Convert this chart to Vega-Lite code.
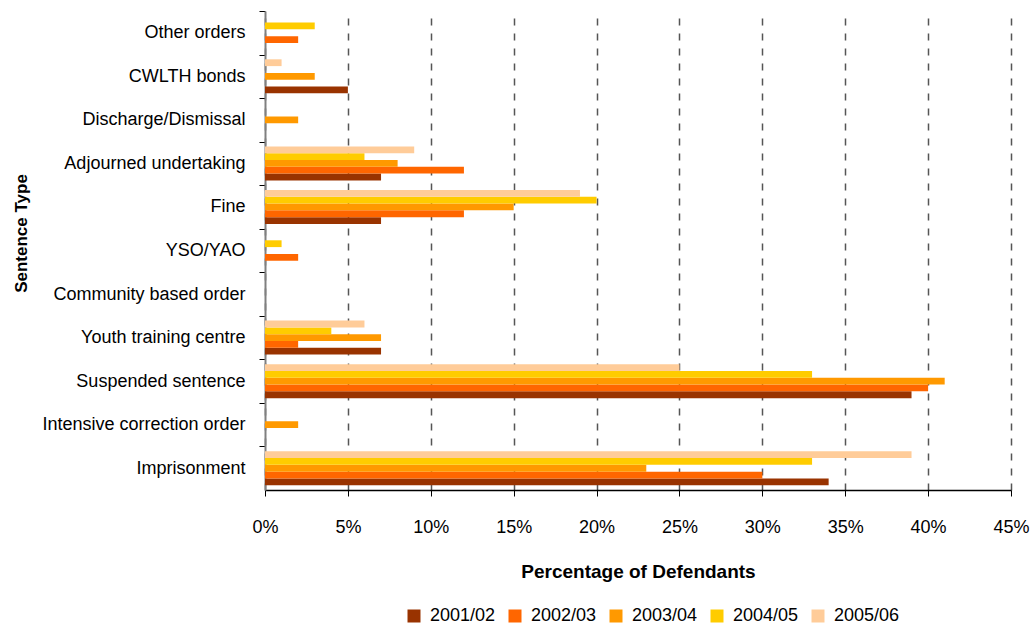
{
  "$schema": "https://vega.github.io/schema/vega-lite/v6.json",
  "width": 746,
  "height": 479,
  "autosize": {"type": "none"},
  "padding": {"left": 265, "top": 11, "right": 23, "bottom": 136},
  "background": "white",
  "config": {
    "view": {"stroke": null},
    "font": "Liberation Sans"
  },
  "data": {
    "values": [
      {"type": "Other orders", "year": "2001/02", "pct": 0},
      {"type": "Other orders", "year": "2002/03", "pct": 2},
      {"type": "Other orders", "year": "2003/04", "pct": 0},
      {"type": "Other orders", "year": "2004/05", "pct": 3},
      {"type": "Other orders", "year": "2005/06", "pct": 0},
      {"type": "CWLTH bonds", "year": "2001/02", "pct": 5},
      {"type": "CWLTH bonds", "year": "2002/03", "pct": 0},
      {"type": "CWLTH bonds", "year": "2003/04", "pct": 3},
      {"type": "CWLTH bonds", "year": "2004/05", "pct": 0},
      {"type": "CWLTH bonds", "year": "2005/06", "pct": 1},
      {"type": "Discharge/Dismissal", "year": "2001/02", "pct": 0},
      {"type": "Discharge/Dismissal", "year": "2002/03", "pct": 0},
      {"type": "Discharge/Dismissal", "year": "2003/04", "pct": 2},
      {"type": "Discharge/Dismissal", "year": "2004/05", "pct": 0},
      {"type": "Discharge/Dismissal", "year": "2005/06", "pct": 0},
      {"type": "Adjourned undertaking", "year": "2001/02", "pct": 7},
      {"type": "Adjourned undertaking", "year": "2002/03", "pct": 12},
      {"type": "Adjourned undertaking", "year": "2003/04", "pct": 8},
      {"type": "Adjourned undertaking", "year": "2004/05", "pct": 6},
      {"type": "Adjourned undertaking", "year": "2005/06", "pct": 9},
      {"type": "Fine", "year": "2001/02", "pct": 7},
      {"type": "Fine", "year": "2002/03", "pct": 12},
      {"type": "Fine", "year": "2003/04", "pct": 15},
      {"type": "Fine", "year": "2004/05", "pct": 20},
      {"type": "Fine", "year": "2005/06", "pct": 19},
      {"type": "YSO/YAO", "year": "2001/02", "pct": 0},
      {"type": "YSO/YAO", "year": "2002/03", "pct": 2},
      {"type": "YSO/YAO", "year": "2003/04", "pct": 0},
      {"type": "YSO/YAO", "year": "2004/05", "pct": 1},
      {"type": "YSO/YAO", "year": "2005/06", "pct": 0},
      {"type": "Community based order", "year": "2001/02", "pct": 0},
      {"type": "Community based order", "year": "2002/03", "pct": 0},
      {"type": "Community based order", "year": "2003/04", "pct": 0},
      {"type": "Community based order", "year": "2004/05", "pct": 0},
      {"type": "Community based order", "year": "2005/06", "pct": 0},
      {"type": "Youth training centre", "year": "2001/02", "pct": 7},
      {"type": "Youth training centre", "year": "2002/03", "pct": 2},
      {"type": "Youth training centre", "year": "2003/04", "pct": 7},
      {"type": "Youth training centre", "year": "2004/05", "pct": 4},
      {"type": "Youth training centre", "year": "2005/06", "pct": 6},
      {"type": "Suspended sentence", "year": "2001/02", "pct": 39},
      {"type": "Suspended sentence", "year": "2002/03", "pct": 40},
      {"type": "Suspended sentence", "year": "2003/04", "pct": 41},
      {"type": "Suspended sentence", "year": "2004/05", "pct": 33},
      {"type": "Suspended sentence", "year": "2005/06", "pct": 25},
      {"type": "Intensive correction order", "year": "2001/02", "pct": 0},
      {"type": "Intensive correction order", "year": "2002/03", "pct": 0},
      {"type": "Intensive correction order", "year": "2003/04", "pct": 2},
      {"type": "Intensive correction order", "year": "2004/05", "pct": 0},
      {"type": "Intensive correction order", "year": "2005/06", "pct": 0},
      {"type": "Imprisonment", "year": "2001/02", "pct": 34},
      {"type": "Imprisonment", "year": "2002/03", "pct": 30},
      {"type": "Imprisonment", "year": "2003/04", "pct": 23},
      {"type": "Imprisonment", "year": "2004/05", "pct": 33},
      {"type": "Imprisonment", "year": "2005/06", "pct": 39}
    ]
  },
  "mark": {"type": "bar"},
  "encoding": {
    "y": {
      "field": "type",
      "type": "nominal",
      "scale": {
        "domain": ["Other orders", "CWLTH bonds", "Discharge/Dismissal", "Adjourned undertaking", "Fine", "YSO/YAO", "Community based order", "Youth training centre", "Suspended sentence", "Intensive correction order", "Imprisonment"],
        "paddingInner": 0,
        "paddingOuter": 0
      },
      "axis": {
        "title": "Sentence Type",
        "titleFont": "Liberation Sans",
        "titleFontSize": 17,
        "titleFontWeight": "bold",
        "titleColor": "#000000",
        "titleX": -244,
        "titleY": 222,
        "titleAngle": -90,
        "titleAlign": "center",
        "titleBaseline": "middle",
        "labelFont": "Liberation Sans",
        "labelFontSize": 18,
        "labelColor": "#000000",
        "labelPadding": 14,
        "labelLimit": 400,
        "tickOffset": -21.77,
        "labelOffset": 21.77,
        "tickSize": 6,
        "tickColor": "#000000",
        "domainColor": "#808080",
        "domainWidth": 2,
        "grid": false
      }
    },
    "yOffset": {
      "field": "year",
      "type": "nominal",
      "sort": "descending",
      "scale": {"paddingInner": 0, "paddingOuter": 0.7}
    },
    "x": {
      "field": "pct",
      "type": "quantitative",
      "scale": {"domain": [0, 45], "nice": false},
      "axis": {
        "values": [0, 5, 10, 15, 20, 25, 30, 35, 40, 45],
        "labelExpr": "datum.value + '%'",
        "title": "Percentage of Defendants",
        "titleFont": "Liberation Sans",
        "titleFontSize": 19,
        "titleFontWeight": "bold",
        "titleColor": "#000000",
        "titleX": 373,
        "titleY": 81,
        "titleAlign": "center",
        "titleBaseline": "middle",
        "labelFont": "Liberation Sans",
        "labelFontSize": 18,
        "labelColor": "#000000",
        "labelPadding": 22,
        "labelFlush": false,
        "labelOverlap": false,
        "tickSize": 6,
        "tickColor": "#000000",
        "domainColor": "#000000",
        "domainWidth": 1.5,
        "grid": true,
        "gridColor": "#555555",
        "gridWidth": 1.5,
        "gridDash": [7, 8]
      }
    },
    "color": {
      "field": "year",
      "type": "nominal",
      "scale": {
        "domain": ["2001/02", "2002/03", "2003/04", "2004/05", "2005/06"],
        "range": ["#993300", "#FF6600", "#FF9900", "#FFCC00", "#FFCC99"]
      },
      "legend": {
        "title": null,
        "orient": "none",
        "direction": "horizontal",
        "legendX": 140,
        "legendY": 596,
        "symbolType": "square",
        "symbolSize": 169,
        "symbolStrokeWidth": 0,
        "labelFont": "Liberation Sans",
        "labelFontSize": 18,
        "labelColor": "#000000",
        "labelOffset": 7,
        "columnPadding": 10
      }
    }
  }
}
